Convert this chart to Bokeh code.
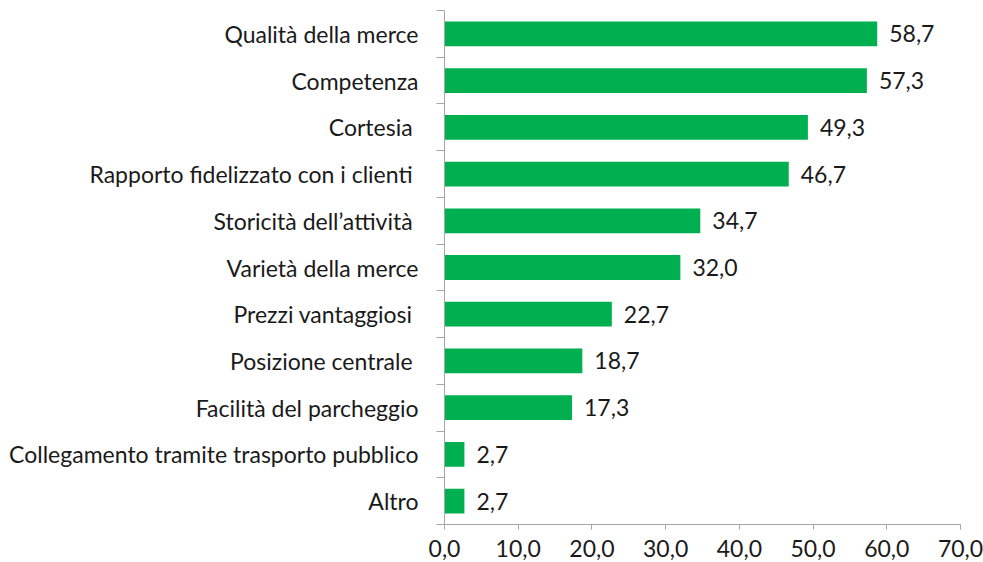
from bokeh.plotting import figure
from bokeh.models import Range1d, FixedTicker, CustomJSTickFormatter, ColumnDataSource
from bokeh.core.properties import value
from bokeh.embed import file_html
from bokeh.resources import INLINE

categories = [
    "Qualità della merce",
    "Competenza",
    "Cortesia\u00a0",
    "Rapporto fidelizzato con i clienti\u00a0",
    "Storicità dell\u2019attività\u00a0",
    "Varietà della merce",
    "Prezzi vantaggiosi\u00a0",
    "Posizione centrale\u00a0",
    "Facilità del parcheggio",
    "Collegamento tramite trasporto pubblico",
    "Altro",
]
values = [58.7, 57.3, 49.3, 46.7, 34.7, 32.0, 22.7, 18.7, 17.3, 2.7, 2.7]
x_ticks = [0, 10, 20, 30, 40, 50, 60, 70]

FONT = "Lato"
FS = "23px"
n = len(categories)
ypos = [n - i - 0.5 for i in range(n)]
labels_txt = [f"{v:.1f}".replace(".", ",") for v in values]

src = ColumnDataSource(dict(y=ypos, v=values, lab=labels_txt))

p = figure(width=983, height=562, output_backend="svg", toolbar_location=None,
           x_range=Range1d(0, 70), y_range=Range1d(0, n),
           min_border_left=444, min_border_right=23, min_border_top=10, min_border_bottom=38)

p.hbar(y="y", right="v", left=0, height=0.53, source=src, fill_color="#00B050", line_color=None)
p.text(x="v", y="y", text="lab", source=src, x_offset=12, text_baseline="middle",
       text_align="left", text_font=value(FONT), text_font_size=FS, text_color="#1a1a1a")

p.xgrid.visible = False
p.ygrid.visible = False
p.outline_line_color = None

ax = p.xaxis[0]
ax.ticker = FixedTicker(ticks=x_ticks, minor_ticks=[])
ax.formatter = CustomJSTickFormatter(code="return tick.toFixed(1).replace('.', ',');")
ax.axis_line_color = "#a6a6a6"
ax.major_tick_line_color = "#a6a6a6"
ax.major_tick_out = 5
ax.major_tick_in = 0
ax.minor_tick_line_color = None
ax.major_label_text_font = FONT
ax.major_label_text_font_size = FS
ax.major_label_text_color = "#1a1a1a"
ax.major_label_standoff = 10

ay = p.yaxis[0]
ay.ticker = FixedTicker(ticks=ypos, minor_ticks=list(range(n + 1)))
ay.formatter = CustomJSTickFormatter(args=dict(labels=categories),
    code="var i = labels.length - 1 - Math.floor(tick); return (i >= 0 && i < labels.length) ? labels[i] : '';")
ay.axis_line_color = "#a6a6a6"
ay.major_tick_out = 0
ay.major_tick_in = 0
ay.major_tick_line_color = None
ay.minor_tick_line_color = "#a6a6a6"
ay.minor_tick_out = 8
ay.minor_tick_in = 0
ay.major_label_text_font = FONT
ay.major_label_text_font_size = FS
ay.major_label_text_color = "#1a1a1a"
ay.major_label_standoff = 18

open("out.html", "w").write(file_html(p, INLINE))
